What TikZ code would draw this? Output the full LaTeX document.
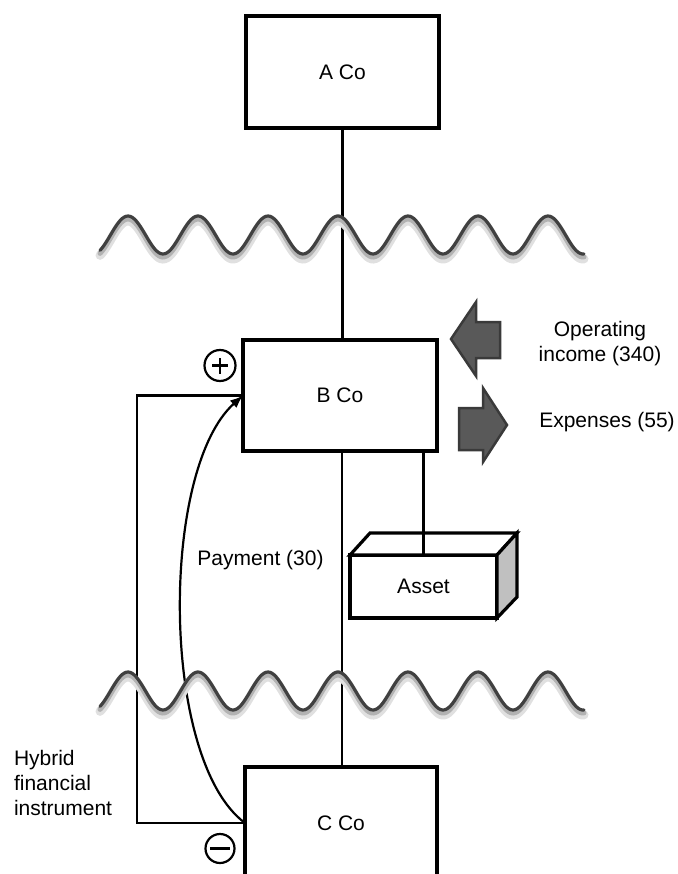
\documentclass[tikz,border=0pt]{standalone}
\usepackage{fontspec}
\setmainfont{Liberation Sans}
\usetikzlibrary{arrows.meta}
\definecolor{wavecol}{HTML}{404040}
\definecolor{arrfill}{HTML}{595959}
\definecolor{arredge}{HTML}{3A3A3A}
\definecolor{sidegray}{HTML}{C0C0C0}
\begin{document}
\begin{tikzpicture}[x=1pt,y=-1pt,
  font=\fontsize{21}{25}\selectfont,
  company/.style={draw=black, line width=3.2pt, minimum width=193pt, minimum height=112pt, inner sep=0pt, outer sep=0pt, fill=white},
  link/.style={line width=2.6pt, draw=black},
  curvelink/.style={line width=2.2pt, draw=black},
  txt/.style={inner sep=0pt, outer sep=0pt},
  wavesh/.style={line width=9pt, draw=black!12, line cap=round},
  wavesh2/.style={line width=5pt, draw=black!30, line cap=round},
  wave/.style={line width=3.2pt, draw=wavecol, line cap=round},
  blockarrow/.style={fill=arrfill, draw=arredge, line width=2.5pt, line join=miter},
  signcircle/.style={circle, draw=black, line width=2.2pt, minimum size=31pt, inner sep=0pt, outer sep=0pt},
]
\useasboundingbox (0,0) rectangle (677,874);
\clip (0,0) rectangle (677,874);

% companies
\node[company] (A) at (342.5,72) {A Co};
\node[company, minimum width=194pt, minimum height=111pt] (B) at (340,395.5) {B Co};
\node[company, minimum width=192pt] (C) at (341,823) {C Co};

% asset box
\node[company, minimum width=147pt, minimum height=63pt] (asset) at (423.5,586.5) {Asset};
\draw[line width=3.2pt, fill=white, line join=miter] (asset.north west) -- ++(20,-22) -- ++(147,0) -- (asset.north east) -- cycle;
\draw[line width=3.2pt, fill=sidegray, line join=miter] (asset.north east) -- ++(20,-22) -- ++(0,64) -- (asset.south east) -- cycle;

% connectors
\draw[link] (A.south) -- (A.south |- B.north);
\draw[link] ([xshift=2pt]B.south) -- ([xshift=2pt]B.south |- C.north);
\draw[link] (asset.north |- B.south) -- (asset.north);
\draw[link] (B.west) -- ++(-106,0) |- (C.west);
\draw[curvelink, -{Latex[length=13pt,width=10pt]}] (C.west) .. controls +(-85,-63) and +(-83,74) .. (B.west);

% waves
\foreach \c in {235,691}{
  \draw[wavesh] plot[domain=100:584, samples=240, smooth] (\x,{\c+5-19*cos((\x-128)*5.142857)});
  \draw[wavesh2] plot[domain=100:584, samples=240, smooth] (\x,{\c+3-19*cos((\x-128)*5.142857)});
  \draw[wave] plot[domain=100:584, samples=240, smooth] (\x,{\c-19*cos((\x-128)*5.142857)});
}

% sign circles
\node[signcircle] (plus) at (220,365.5) {};
\draw[line width=2.5pt] ([xshift=-8pt]plus.center) -- ([xshift=8pt]plus.center)
  ([yshift=-8pt]plus.center) -- ([yshift=8pt]plus.center);
\node[signcircle, minimum size=29pt] (minus) at (220,848.5) {};
\draw[line width=3.5pt] ([xshift=-10pt]minus.center) -- ([xshift=10pt]minus.center);

% block arrows
\draw[blockarrow] (451,339) -- (476,302) -- (476,322) -- (500,322) -- (500,358) -- (476,358) -- (476,376) -- cycle;
\draw[blockarrow] (507,425) -- (483,388) -- (483,408) -- (459,408) -- (459,450) -- (483,450) -- (483,462) -- cycle;

% labels
\node[txt, align=center] (opinc) at (600,343.5) {Operating\\income (340)};
\node[txt, anchor=base] (exp) at (607,427) {Expenses (55)};
\node[txt, anchor=base] (pay) at (260.5,565) {Payment (30)};
\node[txt, align=left, anchor=west] (hyb) at (14,783.3) {Hybrid\\financial\\instrument};
\end{tikzpicture}
\end{document}
